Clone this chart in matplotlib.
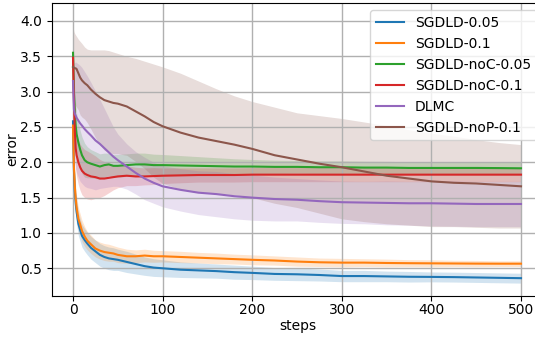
import numpy as np
import matplotlib
matplotlib.use("Agg")
import matplotlib.pyplot as plt

steps = [0, 1, 2, 3, 4, 6, 8, 10, 13, 16, 20, 25, 30, 35, 40, 45, 50, 60, 70, 80, 90, 100,
         120, 140, 160, 180, 200, 225, 250, 275, 300, 325, 350, 375, 400, 425, 450, 475, 500]

labels = ["SGDLD-0.05", "SGDLD-0.1", "SGDLD-noC-0.05", "SGDLD-noC-0.1", "DLMC", "SGDLD-noP-0.1"]

blue_mean = [2.58, 1.9, 1.6, 1.42, 1.3, 1.13, 1.04, 0.96, 0.9, 0.85, 0.79, 0.74, 0.69, 0.66, 0.64, 0.63, 0.62, 0.59, 0.56, 0.53, 0.51, 0.50,
             0.48, 0.47, 0.46, 0.445, 0.435, 0.42, 0.415, 0.405, 0.39, 0.39, 0.385, 0.38, 0.378, 0.375, 0.37, 0.365, 0.36]
blue_std = [0.2, 0.2, 0.2, 0.19, 0.18, 0.17, 0.16, 0.16, 0.16, 0.16, 0.16, 0.16, 0.16, 0.16, 0.16, 0.16, 0.15, 0.15, 0.14, 0.13, 0.125, 0.12,
            0.11, 0.105, 0.1, 0.1, 0.095, 0.09, 0.09, 0.085, 0.08, 0.08, 0.075, 0.075, 0.07, 0.07, 0.07, 0.07, 0.07]

orange_mean = [2.52, 1.95, 1.66, 1.48, 1.36, 1.2, 1.12, 1.03, 0.95, 0.89, 0.84, 0.78, 0.75, 0.73, 0.72, 0.71, 0.69, 0.67, 0.67, 0.68, 0.67, 0.67,
               0.66, 0.65, 0.64, 0.63, 0.62, 0.61, 0.595, 0.585, 0.58, 0.58, 0.575, 0.572, 0.57, 0.568, 0.566, 0.565, 0.565]
orange_std = [0.25, 0.22, 0.2, 0.18, 0.17, 0.16, 0.15, 0.15, 0.14, 0.13, 0.13, 0.12, 0.12, 0.12, 0.12, 0.11, 0.11, 0.1, 0.09, 0.09, 0.085, 0.08,
              0.08, 0.075, 0.075, 0.07, 0.07, 0.065, 0.065, 0.06, 0.06, 0.055, 0.055, 0.05, 0.05, 0.045, 0.045, 0.04, 0.04]

green_mean = [3.55, 3.0, 2.72, 2.52, 2.4, 2.28, 2.18, 2.1, 2.03, 2.0, 1.98, 1.96, 1.94, 1.96, 1.97, 1.95, 1.95, 1.96, 1.97, 1.97, 1.96, 1.96,
              1.955, 1.95, 1.945, 1.94, 1.94, 1.935, 1.935, 1.93, 1.93, 1.925, 1.925, 1.92, 1.92, 1.92, 1.92, 1.918, 1.915]
green_std = [0.3, 0.3, 0.3, 0.3, 0.3, 0.28, 0.27, 0.26, 0.24, 0.22, 0.2, 0.19, 0.18, 0.17, 0.16, 0.16, 0.16, 0.16, 0.16, 0.16, 0.155, 0.15,
             0.14, 0.13, 0.12, 0.11, 0.1, 0.095, 0.09, 0.09, 0.09, 0.09, 0.088, 0.088, 0.086, 0.086, 0.085, 0.085, 0.085]

red_mean = [3.48, 2.9, 2.45, 2.2, 2.1, 2.0, 1.93, 1.88, 1.84, 1.82, 1.8, 1.79, 1.77, 1.77, 1.78, 1.79, 1.8, 1.81, 1.8, 1.8, 1.805, 1.81,
            1.815, 1.82, 1.82, 1.82, 1.825, 1.825, 1.825, 1.825, 1.825, 1.825, 1.825, 1.825, 1.825, 1.825, 1.825, 1.825, 1.825]
red_std = [0.3, 0.3, 0.3, 0.3, 0.3, 0.32, 0.33, 0.34, 0.34, 0.34, 0.33, 0.3, 0.27, 0.24, 0.21, 0.18, 0.16, 0.14, 0.13, 0.12, 0.12, 0.11,
           0.105, 0.1, 0.1, 0.1, 0.1, 0.1, 0.1, 0.1, 0.1, 0.1, 0.1, 0.1, 0.1, 0.1, 0.1, 0.1, 0.1]

purple_mean = [3.15, 2.75, 2.69, 2.66, 2.63, 2.59, 2.55, 2.52, 2.47, 2.43, 2.38, 2.31, 2.26, 2.2, 2.14, 2.08, 2.03, 1.94, 1.85, 1.77, 1.71, 1.66,
               1.61, 1.57, 1.55, 1.52, 1.5, 1.48, 1.47, 1.45, 1.435, 1.43, 1.425, 1.42, 1.42, 1.415, 1.41, 1.41, 1.41]
purple_std = [0.55, 0.65, 0.72, 0.76, 0.78, 0.8, 0.82, 0.82, 0.81, 0.79, 0.75, 0.7, 0.63, 0.56, 0.49, 0.42, 0.37, 0.32, 0.3, 0.3, 0.29, 0.29,
              0.3, 0.31, 0.32, 0.32, 0.32, 0.31, 0.3, 0.3, 0.3, 0.3, 0.31, 0.31, 0.32, 0.32, 0.32, 0.32, 0.32]

brown_mean = [3.35, 3.34, 3.33, 3.33, 3.32, 3.26, 3.2, 3.16, 3.12, 3.09, 3.03, 2.97, 2.92, 2.88, 2.86, 2.84, 2.83, 2.79, 2.72, 2.65, 2.57, 2.51,
              2.42, 2.35, 2.3, 2.25, 2.19, 2.1, 2.04, 1.98, 1.93, 1.87, 1.81, 1.77, 1.73, 1.71, 1.7, 1.68, 1.66]
brown_upper = [3.92, 3.85, 3.82, 3.8, 3.78, 3.74, 3.71, 3.68, 3.63, 3.6, 3.59, 3.59, 3.59, 3.59, 3.58, 3.56, 3.54, 3.5, 3.47, 3.43, 3.39, 3.35,
               3.26, 3.15, 3.04, 2.94, 2.86, 2.78, 2.70, 2.66, 2.62, 2.57, 2.52, 2.46, 2.41, 2.37, 2.32, 2.28, 2.25]
brown_lower = [2.78, 2.81, 2.82, 2.8, 2.78, 2.74, 2.67, 2.64, 2.61, 2.56, 2.47, 2.35, 2.25, 2.17, 2.14, 2.12, 2.12, 2.1, 2.01, 1.91, 1.79, 1.7,
               1.62, 1.58, 1.56, 1.54, 1.5, 1.42, 1.36, 1.28, 1.2, 1.16, 1.13, 1.11, 1.09, 1.09, 1.08, 1.07, 1.07]

colors = ["#1f77b4", "#ff7f0e", "#2ca02c", "#d62728", "#9467bd", "#8c564b"]

W, H = 535, 337
fig = plt.figure(figsize=(W / 100, H / 100), dpi=100)
ax_left_px, ax_right_px = 51.5, 543.4
ax_top_px, ax_bot_px = 3.3, 295.7
ax = fig.add_axes([ax_left_px / W, (H - ax_bot_px) / H,
                   (ax_right_px - ax_left_px) / W, (ax_bot_px - ax_top_px) / H])

x = np.array(steps)
sym = [(blue_mean, blue_std), (orange_mean, orange_std), (green_mean, green_std),
       (red_mean, red_std), (purple_mean, purple_std)]
for i, (m, s) in enumerate(sym):
    m = np.array(m); s = np.array(s)
    ax.plot(x, m, color=colors[i], lw=1.5, label=labels[i])
    ax.fill_between(x, m - s, m + s, color=colors[i], alpha=0.2, lw=0)
ax.plot(x, brown_mean, color=colors[5], lw=1.5, label=labels[5])
ax.fill_between(x, brown_lower, brown_upper, color=colors[5], alpha=0.2, lw=0)

ax.set_xlim(-24, 525)
ax.set_ylim(0.112, 4.25)
ax.set_xticks([0, 100, 200, 300, 400, 500])
ax.set_yticks([0.5, 1.0, 1.5, 2.0, 2.5, 3.0, 3.5, 4.0])
ax.grid(True, color="#b0b0b0", lw=1.0)
ax.set_xlabel("steps", fontsize=10, labelpad=1.5)
ax.set_ylabel("error", fontsize=10, labelpad=0.5)
ax.tick_params(labelsize=10)
ax.tick_params(axis="x", pad=2)
ax.legend(loc="upper right", fontsize=10)

fig.savefig("out.png", dpi=100)
